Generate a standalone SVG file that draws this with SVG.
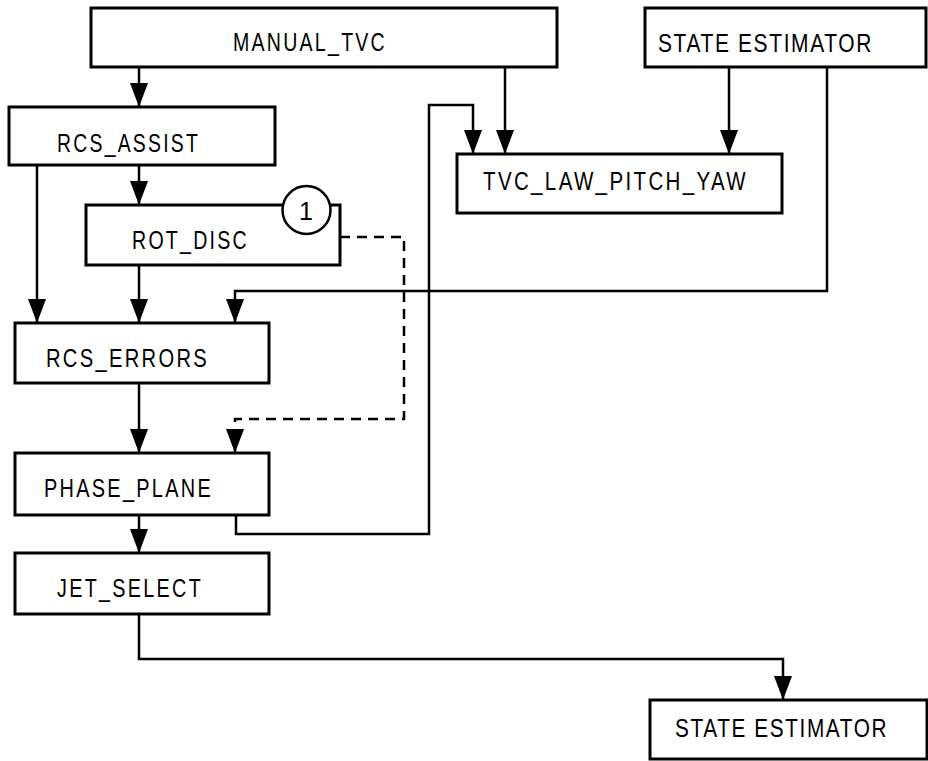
<svg xmlns="http://www.w3.org/2000/svg" width="928" height="761" viewBox="0 0 928 761">
<style>
.box{fill:#fff;stroke:#000;stroke-width:3}
.lbl{font-family:"Liberation Sans",Arial,sans-serif;font-size:26px;letter-spacing:3px;fill:#000}
.c{fill:none;stroke:#000;stroke-width:2.5}
.d{stroke-dasharray:10 7}
</style>
<defs>
<marker id="ah" viewBox="0 0 24 18" refX="24" refY="9" markerWidth="24" markerHeight="18" orient="auto" markerUnits="userSpaceOnUse">
<path d="M0,0 L24,9 L0,18 Z" fill="#000"/>
</marker>
</defs>
<rect width="928" height="761" fill="#fff"/>
<g id="connectors">
<path class="c" d="M139,67 V107" marker-end="url(#ah)"/>
<path class="c" d="M505,67 V154" marker-end="url(#ah)"/>
<path class="c" d="M729,67 V154" marker-end="url(#ah)"/>
<path class="c" d="M236,515 V534 H429 V105 H473 V154" marker-end="url(#ah)"/>
<path class="c" d="M139,165 V205" marker-end="url(#ah)"/>
<path class="c" d="M37,165 V323" marker-end="url(#ah)"/>
<path class="c" d="M139,265 V323" marker-end="url(#ah)"/>
<path class="c" d="M827,67 V291 H235 V323" marker-end="url(#ah)"/>
<path class="c d" d="M340,237 H404 V419 H235 V441"/>
<path class="c" d="M235,441 V453" marker-end="url(#ah)"/>
<path class="c" d="M139,383 V453" marker-end="url(#ah)"/>
<path class="c" d="M139,515 V553" marker-end="url(#ah)"/>
<path class="c" d="M139,614 V659 H783 V700" marker-end="url(#ah)"/>
</g>
<g id="manual_tvc">
<rect class="box" x="91" y="8" width="466" height="59"/>
<text class="lbl" x="233" y="51" textLength="154" lengthAdjust="spacingAndGlyphs">MANUAL_TVC</text>
</g>
<g id="state_estimator_top">
<rect class="box" x="645" y="8" width="281" height="59"/>
<text class="lbl" x="658" y="52" textLength="215" lengthAdjust="spacingAndGlyphs" style="letter-spacing:2px">STATE ESTIMATOR</text>
</g>
<g id="rcs_assist">
<rect class="box" x="9" y="107" width="266" height="58"/>
<text class="lbl" x="57" y="152" textLength="143" lengthAdjust="spacingAndGlyphs">RCS_ASSIST</text>
</g>
<g id="tvc_law_pitch_yaw">
<rect class="box" x="457" y="154" width="325" height="59"/>
<text class="lbl" x="483" y="190" textLength="265" lengthAdjust="spacingAndGlyphs">TVC_LAW_PITCH_YAW</text>
</g>
<g id="rot_disc">
<path d="M283,205 H86 V265 H340 V205 H330" fill="#fff" stroke="#000" stroke-width="3"/>
<circle cx="306.5" cy="210" r="24" fill="#fff" stroke="#000" stroke-width="2.5"/>
<text x="306" y="220" text-anchor="middle" style="font-family:'Liberation Sans',Arial,sans-serif;font-size:25px">1</text>
<text class="lbl" x="132" y="249" textLength="117" lengthAdjust="spacingAndGlyphs">ROT_DISC</text>
</g>
<g id="rcs_errors">
<rect class="box" x="15" y="323" width="254" height="60"/>
<text class="lbl" x="46" y="367" textLength="163" lengthAdjust="spacingAndGlyphs">RCS_ERRORS</text>
</g>
<g id="phase_plane">
<rect class="box" x="15" y="453" width="254" height="62"/>
<text class="lbl" x="44" y="497" textLength="169" lengthAdjust="spacingAndGlyphs">PHASE_PLANE</text>
</g>
<g id="jet_select">
<rect class="box" x="15" y="553" width="254" height="61"/>
<text class="lbl" x="57" y="597" textLength="146" lengthAdjust="spacingAndGlyphs">JET_SELECT</text>
</g>
<g id="state_estimator_bottom">
<rect class="box" x="650" y="700" width="277" height="59"/>
<text class="lbl" x="0" y="0" transform="translate(675,737) scale(0.8,1)" style="letter-spacing:2px">STATE ESTIMATOR</text>
</g>
</svg>
